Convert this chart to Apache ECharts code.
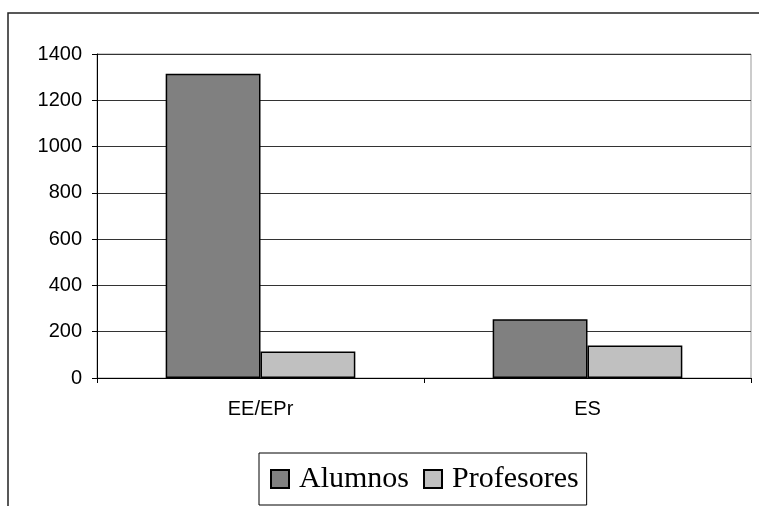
<!DOCTYPE html>
<html>
<head>
<meta charset="utf-8">
<script src="https://cdn.jsdelivr.net/npm/echarts@6/dist/echarts.min.js"></script>
<style>
    html, body { margin: 0; padding: 0; background: #fff; }
    #chart { width: 759px; height: 506px; }
</style>
</head>
<body>
<div id="chart"></div>
<script>
// data
const categories = ["EE/EPr", "ES"];
const alumnos = [1315, 254];
const profesores = [115, 140];
const seriesNames = ["Alumnos", "Profesores"];

const chart = echarts.init(document.getElementById("chart"), null, { renderer: "canvas" });

const barStyle = (color) => ({
    color: color,
    borderColor: "#000",
    borderWidth: 1.5
});

const option = {
    backgroundColor: "#fff",
    animation: false,
    // outer frame of the chart area (its right and bottom sides fall off the picture)
    graphic: [{
        type: "rect",
        z: -1,
        shape: { x: 8, y: 13, width: 800, height: 600 },
        style: { fill: null, stroke: "#222", lineWidth: 1.5 }
    }],
    grid: {
        left: 97, right: 8, top: 54, bottom: 128,
        show: true,
        borderColor: "#999",
        borderWidth: 1
    },
    legend: {
        data: seriesNames,
        icon: "rect",
        left: 259,
        top: 453,
        orient: "horizontal",
        padding: [11, 8, 11, 11],
        borderColor: "#000",
        borderWidth: 1,
        itemWidth: 18,
        itemHeight: 18,
        itemGap: 14,
        textStyle: {
            fontFamily: "Liberation Serif",
            fontSize: 30,
            color: "#000",
            padding: [0, 0, 0, 5]
        }
    },
    xAxis: {
        type: "category",
        data: categories,
        axisLine: { show: true, lineStyle: { color: "#000", width: 1 } },
        axisTick: { show: true, alignWithLabel: false, length: 5, lineStyle: { color: "#000" } },
        axisLabel: {
            fontFamily: "Liberation Sans",
            fontSize: 20,
            color: "#000",
            margin: 21
        },
        splitLine: { show: false }
    },
    yAxis: {
        type: "value",
        min: 0,
        max: 1400,
        interval: 200,
        axisLine: { show: true, lineStyle: { color: "#000", width: 1 } },
        axisTick: { show: true, length: 5, lineStyle: { color: "#000" } },
        axisLabel: {
            fontFamily: "Liberation Sans",
            fontSize: 20,
            color: "#000",
            margin: 15,
            formatter: (v) => String(v)
        },
        splitLine: { show: true, lineStyle: { color: "#333", width: 1 } }
    },
    series: [
        {
            name: seriesNames[0],
            type: "bar",
            data: alumnos,
            barWidth: "29%",
            barGap: "0%",
            itemStyle: barStyle("#808080")
        },
        {
            name: seriesNames[1],
            type: "bar",
            data: profesores,
            barWidth: "29%",
            barGap: "0%",
            itemStyle: barStyle("#c0c0c0")
        }
    ]
};

chart.setOption(option);
</script>
</body>
</html>
